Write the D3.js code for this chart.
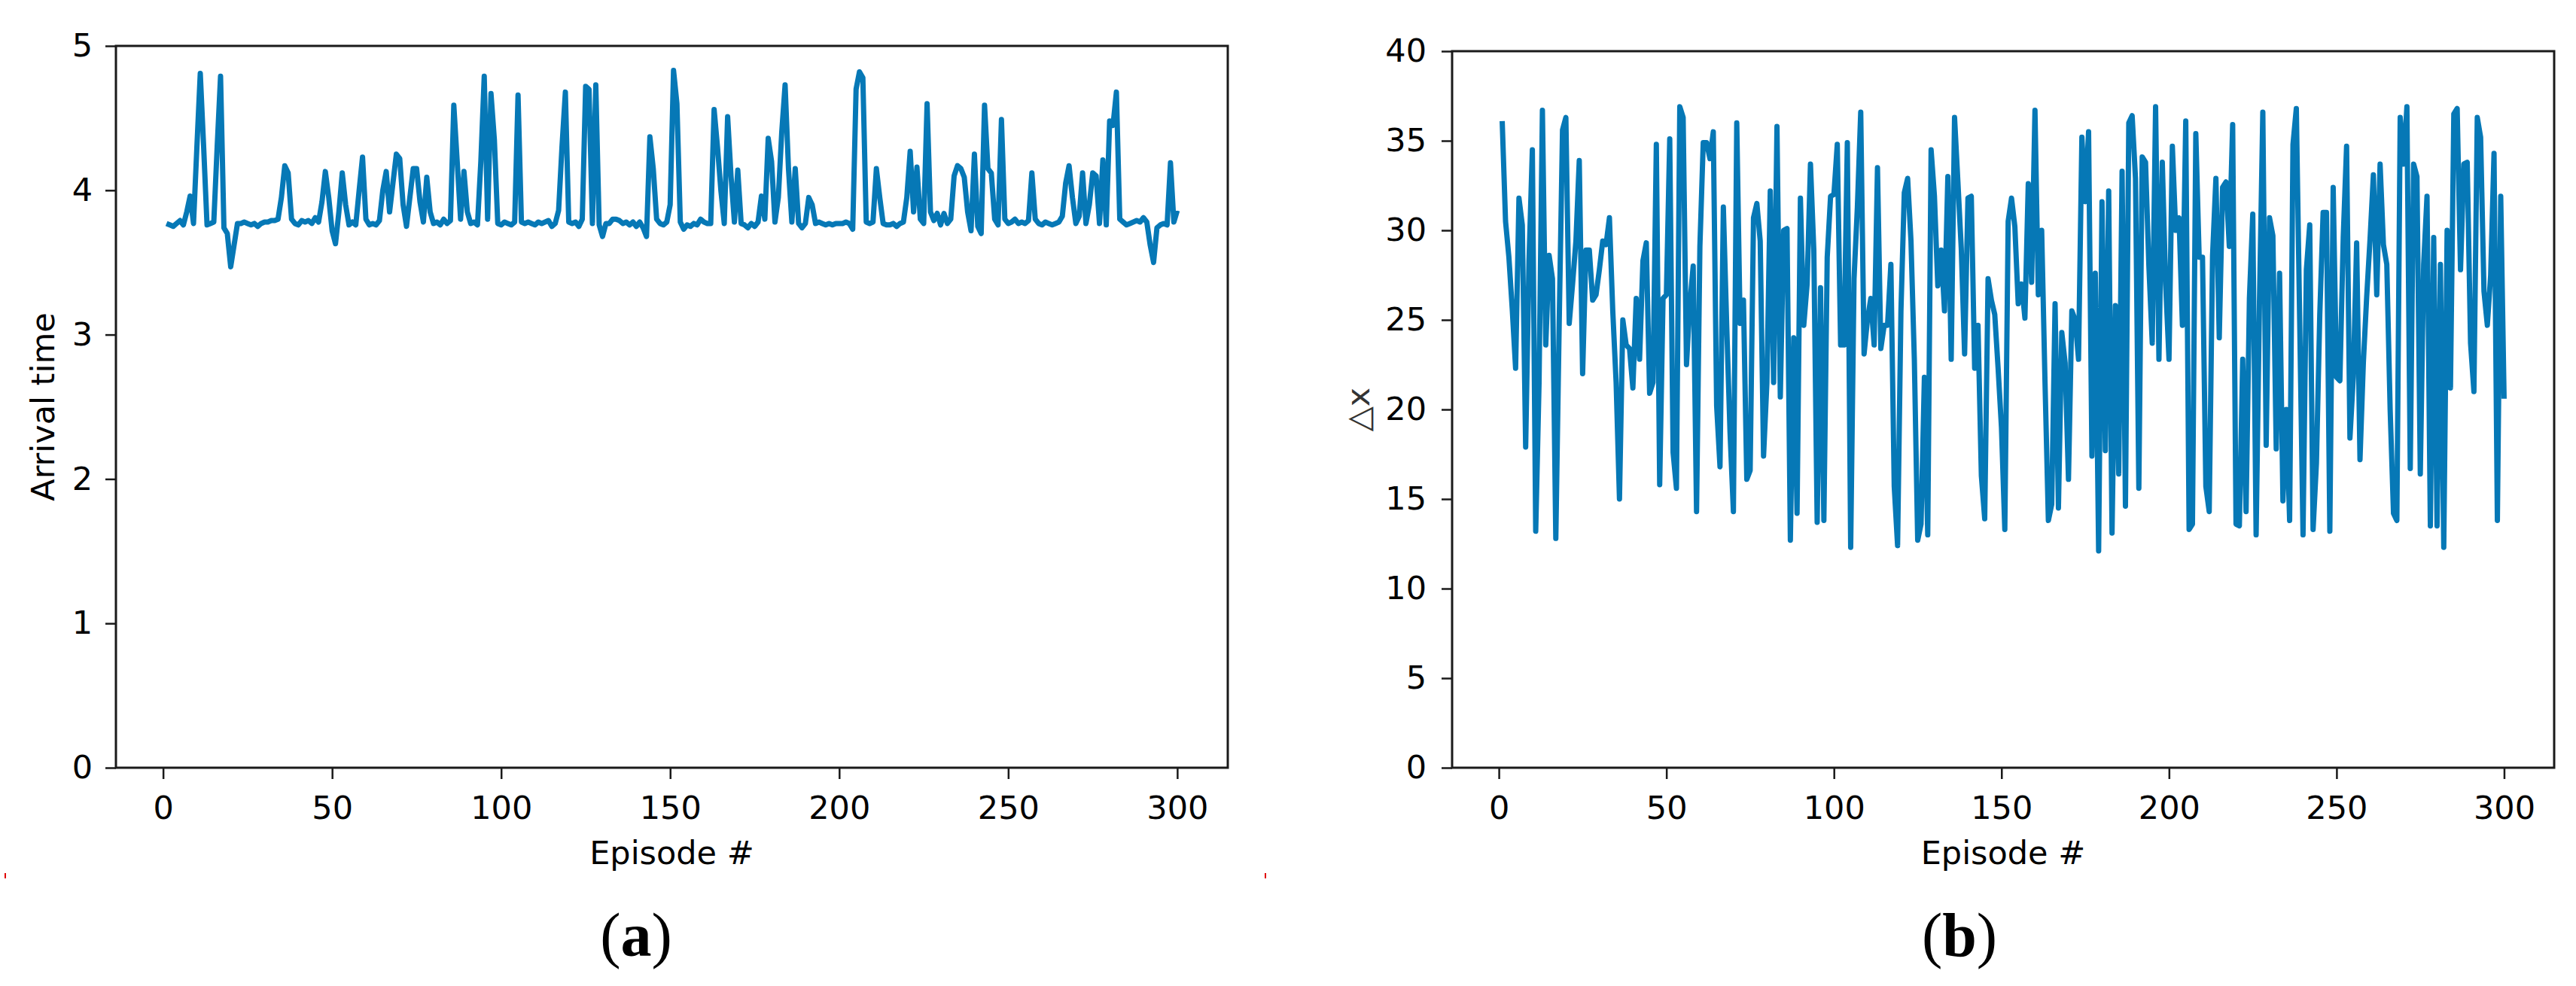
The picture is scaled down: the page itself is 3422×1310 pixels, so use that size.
<!DOCTYPE html>
<html><head><meta charset="utf-8">
<script src="https://cdn.jsdelivr.net/npm/d3@7"></script>
<style>
body{margin:0;background:#fff}
svg{display:block}
text{font-family:"DejaVu Sans",sans-serif;fill:#000}
</style>
</head><body>
<svg id="chart" width="3422" height="1310"></svg>
<script>
// ---- data (episode = index + 1) ----
const arrivalTime = [
3.77,3.76,3.75,3.77,3.79,3.76,3.85,3.96,3.77,4.30,
4.81,4.30,3.76,3.77,3.78,4.30,4.79,3.74,3.70,3.47,
3.62,3.77,3.77,3.78,3.77,3.76,3.77,3.75,3.77,3.78,
3.78,3.79,3.79,3.80,3.95,4.17,4.12,3.80,3.77,3.76,
3.79,3.78,3.79,3.77,3.81,3.78,3.92,4.13,3.95,3.72,
3.63,3.85,4.12,3.90,3.76,3.78,3.76,4.00,4.23,3.80,
3.76,3.77,3.76,3.79,4.00,4.13,3.85,4.05,4.25,4.22,
3.90,3.75,3.95,4.15,4.15,3.92,3.78,4.09,3.85,3.77,
3.78,3.76,3.80,3.77,3.79,4.59,4.20,3.80,4.13,3.85,
3.77,3.78,3.76,4.20,4.79,3.80,4.67,4.35,3.77,3.76,
3.78,3.77,3.76,3.78,4.66,3.78,3.77,3.78,3.77,3.76,
3.78,3.77,3.78,3.79,3.75,3.77,3.86,4.30,4.68,3.78,
3.77,3.78,3.75,3.80,4.72,4.70,3.77,4.73,3.76,3.68,
3.77,3.77,3.80,3.80,3.79,3.77,3.78,3.76,3.78,3.75,
3.78,3.74,3.68,4.37,4.15,3.80,3.77,3.76,3.78,3.90,
4.83,4.60,3.78,3.73,3.76,3.75,3.77,3.76,3.80,3.78,
3.77,3.77,4.56,4.30,4.00,3.77,4.51,4.10,3.78,4.14,
3.77,3.76,3.74,3.77,3.75,3.78,3.96,3.80,4.36,4.20,
3.78,3.95,4.40,4.73,4.15,3.78,4.15,3.77,3.74,3.77,
3.95,3.90,3.77,3.78,3.77,3.76,3.77,3.76,3.77,3.77,
3.77,3.78,3.77,3.73,4.70,4.82,4.78,3.78,3.77,3.78,
4.15,3.95,3.77,3.76,3.76,3.77,3.75,3.77,3.78,3.95,
4.27,3.85,4.16,3.80,3.77,4.60,3.85,3.79,3.84,3.76,
3.84,3.77,3.80,4.10,4.17,4.15,4.09,3.85,3.72,4.25,
3.75,3.70,4.59,4.15,4.12,3.80,3.76,4.49,3.80,3.77,
3.78,3.80,3.77,3.78,3.77,3.79,4.12,3.80,3.77,3.76,
3.78,3.77,3.76,3.77,3.78,3.82,4.05,4.17,3.95,3.77,
3.82,4.12,3.77,3.90,4.12,4.10,3.77,4.21,3.76,4.48,
4.45,4.68,3.80,3.78,3.76,3.77,3.78,3.79,3.78,3.81,
3.78,3.62,3.50,3.74,3.76,3.77,3.76,4.19,3.78,3.86
];
const deltaX = [
36.1,30.5,28.5,25.6,22.3,31.8,30.3,17.9,28.3,34.5,
13.2,21.5,36.7,23.6,28.6,27.3,12.8,24.7,35.6,36.3,
24.8,27.0,29.4,33.9,22.0,28.9,28.9,26.1,26.4,27.8,
29.4,29.2,30.7,25.5,21.5,15.0,25.0,23.6,23.4,21.2,
26.2,22.8,28.3,29.3,20.9,21.5,34.8,15.8,26.2,26.4,
35.1,17.6,15.6,36.9,36.3,22.5,25.9,28.0,14.3,29.1,
34.9,34.9,34.0,35.5,20.2,16.8,31.3,24.7,18.7,14.3,
36.0,24.8,26.1,16.1,16.6,30.7,31.5,29.4,17.4,21.5,
32.2,21.5,35.8,20.7,30.0,30.1,12.7,24.0,14.2,31.8,
24.7,27.0,33.7,28.9,13.7,26.8,13.8,28.5,31.9,32.0,
34.8,23.6,23.6,34.9,12.3,27.3,31.3,36.6,23.1,25.0,
26.2,23.6,33.5,23.4,24.7,24.7,28.1,15.7,12.4,25.5,
32.1,32.9,29.4,22.8,12.7,13.6,21.8,13.0,34.5,31.9,
26.9,28.9,25.5,33.0,22.8,36.3,32.7,29.0,23.1,31.8,
31.9,22.3,24.7,16.3,13.9,27.3,26.1,25.3,22.3,19.0,
13.3,30.5,31.8,30.2,25.9,27.0,25.1,32.6,27.1,36.7,
26.4,30.0,21.5,13.8,14.7,25.9,14.5,24.3,22.6,16.1,
25.5,25.0,22.8,35.2,31.6,35.5,17.4,27.6,12.1,31.6,
17.7,32.2,13.1,25.8,16.4,33.3,14.6,36.0,36.4,32.9,
15.6,34.1,33.8,28.0,23.7,36.9,22.8,33.8,27.0,22.8,
34.7,30.0,30.7,24.7,36.1,13.3,13.6,35.4,28.5,28.5,
15.7,14.3,28.6,32.9,24.0,32.4,32.7,29.1,35.9,13.6,
13.5,22.8,14.3,26.2,30.9,13.0,26.0,36.6,18.0,30.7,
29.7,17.8,27.6,14.9,20.0,13.8,34.8,36.8,25.0,13.0,
27.8,30.3,13.3,17.0,25.3,31.0,31.0,13.2,32.4,21.8,
21.6,29.6,34.7,18.4,21.8,29.3,17.2,22.6,26.3,29.5,
33.1,26.4,33.7,29.2,28.1,20.0,14.2,13.8,36.3,33.7,
36.9,16.7,33.7,33.0,16.4,28.1,31.9,13.5,29.6,13.5,
28.1,12.3,30.0,21.2,36.5,36.8,27.8,33.7,33.8,23.7,
21.0,36.3,35.2,26.6,24.7,27.5,34.3,13.8,31.9,20.6
];
const xTickValues = [0, 50, 100, 150, 200, 250, 300];
const yTicksA = [0, 1, 2, 3, 4, 5];
const yTicksB = [0, 5, 10, 15, 20, 25, 30, 35, 40];
const xLabel = "Episode #";
const yLabelA = "Arrival time";
const yLabelB = "\u25B3x";
const panelLabels = ["a", "b"];

// ---- drawing ----
const svg = d3.select("#chart");
const LINE = "#0678b6";
const FONT = 43;

function panel(o) {
  const g = svg.append("g");
  const x = d3.scaleLinear().domain([-13.95, 314.95]).range([o.left, o.right]);
  const y = d3.scaleLinear().domain(o.yDomain).range([o.bottom, o.top]);

  // data line
  const line = d3.line().x((d, i) => x(i + 1)).y(d => y(d));
  g.append("path").datum(o.values)
    .attr("d", line).attr("fill", "none")
    .attr("stroke", LINE).attr("stroke-width", 7)
    .attr("stroke-linejoin", "round");

  // spines
  g.append("rect").attr("x", o.left).attr("y", o.top)
    .attr("width", o.right - o.left).attr("height", o.bottom - o.top)
    .attr("fill", "none").attr("stroke", "#1a1a1a").attr("stroke-width", 3);

  // x axis
  const ax = g.append("g").attr("transform", `translate(0,${o.bottom})`)
    .call(d3.axisBottom(x).tickValues(xTickValues).tickFormat(d3.format("d"))
      .tickSize(15).tickPadding(22));
  ax.select(".domain").remove();
  ax.selectAll(".tick line").attr("stroke", "#1a1a1a").attr("stroke-width", 2.5);
  ax.selectAll(".tick text").style("font-size", FONT + "px").attr("fill", "#000");

  // y axis
  const ay = g.append("g").attr("transform", `translate(${o.left},0)`)
    .call(d3.axisLeft(y).tickValues(o.yTicks).tickFormat(d3.format("d"))
      .tickSize(14).tickPadding(o.yPad));
  ay.select(".domain").remove();
  ay.selectAll(".tick line").attr("stroke", "#1a1a1a").attr("stroke-width", 2.5);
  ay.selectAll(".tick text").style("font-size", FONT + "px").attr("fill", "#000");

  // axis titles
  g.append("text").attr("x", (o.left + o.right) / 2).attr("y", 1148)
    .attr("text-anchor", "middle").style("font-size", FONT + "px").text(xLabel);
  g.append("text")
    .attr("transform", `translate(${o.yLabelX},${(o.top + o.bottom) / 2}) rotate(-90)`)
    .attr("text-anchor", "middle").style("font-size", FONT + "px")
    .style("fill", o.yLabelColor || "#000").text(o.yLabel);

  // panel label
  const t = svg.append("text").attr("x", o.capX).attr("y", 1270)
    .attr("text-anchor", "middle")
    .style("font-family", "'Liberation Serif','Times New Roman',serif")
    .style("font-size", "82px");
  t.append("tspan").text("(");
  t.append("tspan").style("font-weight", "bold").text(o.cap);
  t.append("tspan").text(")");
}

panel({values: arrivalTime, left: 154, right: 1631, top: 61, bottom: 1020,
  yDomain: [0, 5], yTicks: yTicksA, yPad: 17, yLabel: yLabelA, yLabelX: 72,
  cap: panelLabels[0], capX: 845});
panel({values: deltaX, left: 1929, right: 3393, top: 68, bottom: 1020,
  yDomain: [0, 40], yTicks: yTicksB, yPad: 20, yLabel: yLabelB, yLabelX: 1819,
  yLabelColor: "#333", cap: panelLabels[1], capX: 2603});

// small red marks present in the source figure
svg.append("rect").attr("x", 6).attr("y", 1160).attr("width", 2).attr("height", 7).attr("fill", "#e00000");
svg.append("rect").attr("x", 1680).attr("y", 1160).attr("width", 2).attr("height", 7).attr("fill", "#e00000");
</script>
</body></html>
